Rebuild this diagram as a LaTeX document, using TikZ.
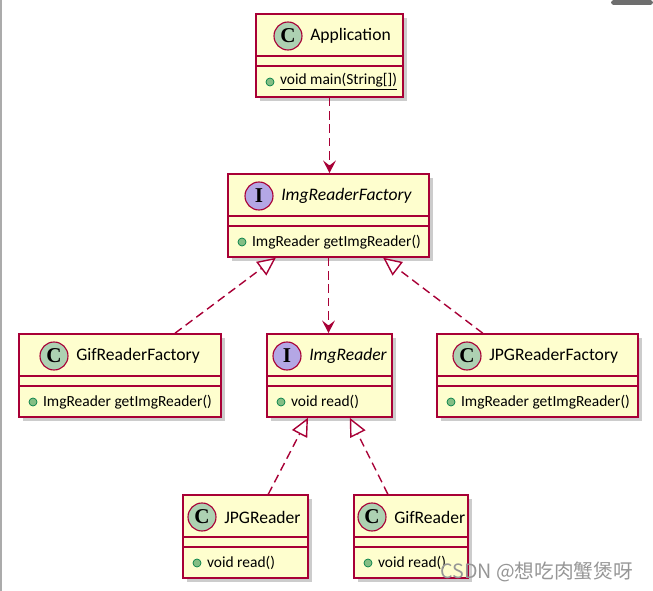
\documentclass[tikz,border=0pt]{standalone}
\usepackage{fontspec}
\setmainfont{Carlito}
\newfontfamily\badgefont{Liberation Serif}
\newfontfamily\cjkfont{Noto Sans CJK SC}
\definecolor{UmlRed}{RGB}{168,0,54}
\definecolor{UmlYellow}{RGB}{254,254,206}
\definecolor{UmlGreen}{RGB}{173,209,178}
\definecolor{UmlPurple}{RGB}{180,167,229}
\definecolor{DotGreen}{RGB}{132,190,132}
\definecolor{DotDark}{RGB}{3,128,72}
\definecolor{MarkGray}{RGB}{150,150,150}
\definecolor{CornerGray}{RGB}{110,110,110}
\usetikzlibrary{
    arrows.meta,
    positioning,
    calc,
    fit,
    shadows,
}

\newcommand{\umlclass}[8]{%
    \node[cbox, fit={(#2,#3) (#4,#3+83)}] (#1) {};
    \draw[rowline] (#2,#3+42) -- (#4,#3+42);
    \draw[rowline] (#2,#3+52) -- (#4,#3+52);
    \node[badge#6] (#1-b) at (#5,#3+22) {#6};
    \node[title#6, right=0.15cm of #1-b] (#1-t) {#7};
    \node[mdot] (#1-d) at (#2+14,#3+68) {};
    \node[mtext, right=0.1cm of #1-d] (#1-m) {#8};
}

\begin{document}
\begin{tikzpicture}[
    x=0.025cm, y=-0.025cm,
    cbox/.style={rectangle, draw=UmlRed, fill=UmlYellow, line width=1.1pt, inner sep=0pt, drop shadow={shadow xshift=2.5pt, shadow yshift=-2.5pt, fill=black!40, opacity=0.5}},
    rowline/.style={draw=UmlRed, line width=1.1pt},
    badgeC/.style={circle, draw=UmlRed, fill=UmlGreen, line width=0.8pt, minimum size=0.7cm, inner sep=0pt, font=\badgefont\bfseries\fontsize{15}{15}\selectfont},
    badgeI/.style={badgeC, fill=UmlPurple},
    titleC/.style={inner sep=1pt, font=\fontsize{12.5}{14}\selectfont},
    titleI/.style={inner sep=1pt, font=\fontsize{12.5}{14}\selectfont\itshape},
    mdot/.style={circle, draw=DotDark, fill=DotGreen, line width=0.5pt, minimum size=0.2cm, inner sep=0pt},
    mtext/.style={inner sep=1pt, font=\fontsize{11}{13}\selectfont},
    depend/.style={draw=UmlRed, line width=1pt, dash pattern=on 6pt off 3.5pt, -{Stealth[length=9pt, width=9pt, inset=3.5pt]}},
    realize/.style={draw=UmlRed, line width=1pt, dash pattern=on 6pt off 3.5pt, -{Triangle[open, length=13pt, width=12pt, fill=white]}},
]
    \useasboundingbox (0,0) rectangle (653,591);
    \draw[MarkGray!80, line width=1pt] (1,0) -- (1,591);
    \fill[CornerGray, rounded corners=2pt] (611,0) rectangle (653,5);

    \umlclass{app}{256}{14}{403}{288}{C}{Application}{\underline{void main(String[])}}
    \umlclass{irf}{228}{174}{429}{259}{I}{ImgReaderFactory}{ImgReader getImgReader()}
    \umlclass{gf}{19}{334}{221}{54}{C}{GifReaderFactory}{ImgReader getImgReader()}
    \umlclass{ir}{267}{334}{392}{287}{I}{ImgReader}{void read()}
    \umlclass{jf}{437}{334}{638}{467}{C}{JPGReaderFactory}{ImgReader getImgReader()}
    \umlclass{jr}{183}{495}{308}{202}{C}{JPGReader}{void read()}
    \umlclass{gr}{354}{495}{468}{372}{C}{GifReader}{void read()}

    \draw[depend] (app.south) -- (app.south |- irf.north);
    \draw[depend] (irf.south) -- (irf.south |- ir.north);
    \draw[realize] ($(gf.north west)!0.77!(gf.north east)$) -- ($(irf.south west)!0.24!(irf.south east)$);
    \draw[realize] ($(jf.north west)!0.23!(jf.north east)$) -- ($(irf.south west)!0.77!(irf.south east)$);
    \draw[realize] ($(jr.north west)!0.68!(jr.north east)$) -- ($(ir.south west)!0.33!(ir.south east)$);
    \draw[realize] ($(gr.north west)!0.30!(gr.north east)$) -- ($(ir.south west)!0.66!(ir.south east)$);

    \node[font=\cjkfont\fontsize{14}{16}\selectfont, text=MarkGray, anchor=east] (wm) at (638,572) {CSDN @想吃肉蟹煲呀};
\end{tikzpicture}
\end{document}
